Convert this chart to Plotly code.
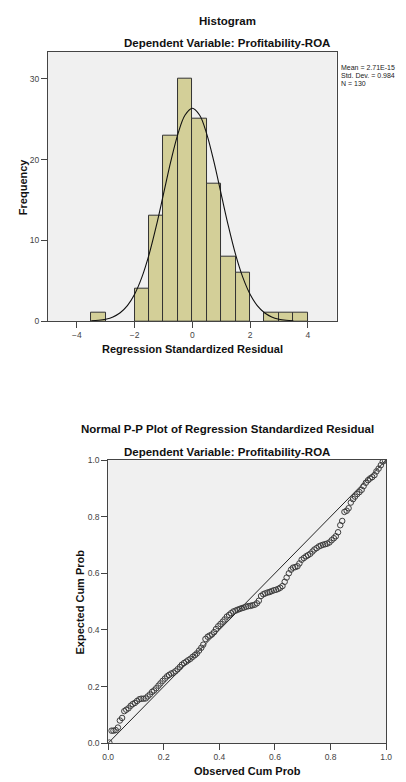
import plotly.graph_objects as go

# ---------------- Data ----------------
bin_centers = [-3.25, -1.75, -1.25, -0.75, -0.25, 0.25, 0.75, 1.25, 1.75, 2.75, 3.25, 3.75]
bin_counts = [1, 4, 13, 23, 30, 25, 17, 8, 6, 1, 1, 1]
bin_width = 0.5

curve_x = [-3.5, -3.25, -3.0, -2.75, -2.5, -2.25, -2.0, -1.75, -1.5, -1.25, -1.0, -0.75, -0.5, -0.25,
           0.0, 0.25, 0.5, 0.75, 1.0, 1.25, 1.5, 1.75, 2.0, 2.25, 2.5, 2.75, 3.0, 3.25, 3.5]
curve_y = [0.05, 0.11, 0.25, 0.53, 1.05, 1.93, 3.34, 5.42, 8.24, 11.76, 15.72, 19.71, 23.16, 25.51,
           26.35, 25.51, 23.16, 19.71, 15.72, 11.76, 8.24, 5.42, 3.34, 1.93, 1.05, 0.53, 0.25, 0.11, 0.05]

stats_lines = ["Mean = 2.71E-15", "Std. Dev. = 0.984", "N = 130"]

hist_xticks = [-4, -2, 0, 2, 4]
hist_yticks = [0, 10, 20, 30]

obs_cum = [0.004, 0.012, 0.019, 0.027, 0.035, 0.042, 0.050, 0.058, 0.065, 0.073,
           0.081, 0.088, 0.096, 0.104, 0.112, 0.119, 0.127, 0.135, 0.142, 0.150,
           0.158, 0.165, 0.173, 0.181, 0.188, 0.196, 0.204, 0.212, 0.219, 0.227,
           0.235, 0.242, 0.250, 0.258, 0.265, 0.273, 0.281, 0.288, 0.296, 0.304,
           0.312, 0.319, 0.327, 0.335, 0.342, 0.350, 0.358, 0.365, 0.373, 0.381,
           0.388, 0.396, 0.404, 0.412, 0.419, 0.427, 0.435, 0.442, 0.450, 0.458,
           0.465, 0.473, 0.481, 0.488, 0.496, 0.504, 0.512, 0.519, 0.527, 0.535,
           0.542, 0.550, 0.558, 0.565, 0.573, 0.581, 0.588, 0.596, 0.604, 0.612,
           0.619, 0.627, 0.635, 0.642, 0.650, 0.658, 0.665, 0.673, 0.681, 0.688,
           0.696, 0.704, 0.712, 0.719, 0.727, 0.735, 0.742, 0.750, 0.758, 0.765,
           0.773, 0.781, 0.788, 0.796, 0.804, 0.812, 0.819, 0.827, 0.835, 0.842,
           0.850, 0.858, 0.865, 0.873, 0.881, 0.888, 0.896, 0.904, 0.912, 0.919,
           0.927, 0.935, 0.942, 0.950, 0.958, 0.965, 0.973, 0.981, 0.988, 0.996]
exp_cum = [0.002, 0.044, 0.044, 0.046, 0.055, 0.080, 0.089, 0.113, 0.118, 0.123,
           0.132, 0.138, 0.142, 0.149, 0.155, 0.157, 0.157, 0.158, 0.165, 0.172,
           0.181, 0.186, 0.194, 0.203, 0.211, 0.220, 0.228, 0.236, 0.241, 0.246,
           0.249, 0.254, 0.261, 0.269, 0.277, 0.283, 0.288, 0.293, 0.298, 0.305,
           0.311, 0.317, 0.327, 0.337, 0.348, 0.368, 0.376, 0.380, 0.384, 0.392,
           0.403, 0.413, 0.421, 0.429, 0.437, 0.447, 0.453, 0.459, 0.465, 0.468,
           0.471, 0.474, 0.477, 0.479, 0.482, 0.484, 0.485, 0.487, 0.489, 0.494,
           0.503, 0.520, 0.526, 0.529, 0.532, 0.534, 0.537, 0.540, 0.542, 0.545,
           0.549, 0.555, 0.570, 0.585, 0.600, 0.613, 0.620, 0.622, 0.625, 0.635,
           0.648, 0.654, 0.660, 0.664, 0.669, 0.677, 0.684, 0.689, 0.695, 0.698,
           0.701, 0.703, 0.705, 0.709, 0.717, 0.724, 0.731, 0.745, 0.770, 0.785,
           0.817, 0.821, 0.830, 0.850, 0.862, 0.871, 0.880, 0.887, 0.895, 0.908,
           0.920, 0.929, 0.935, 0.940, 0.947, 0.960, 0.970, 0.982, 0.995, 0.999]
ref_line = [0.0, 1.0]
pp_ticks = [0.0, 0.2, 0.4, 0.6, 0.8, 1.0]
pp_ticklabels = ["0.0", "0.2", "0.4", "0.6", "0.8", "1.0"]

# ---------------- Geometry ----------------
W, H = 406, 782
def fx(px):
    return px / W
def fy(py):
    return 1 - py / H

FONT = "Liberation Sans, Arial, sans-serif"
BAR_FILL = "#d3cf98"
PLOT_BG = "#f0f0f0"
AX_COL = "#444444"

fig = go.Figure()

fig.add_trace(go.Bar(
    x=bin_centers, y=bin_counts, width=bin_width,
    marker=dict(color=BAR_FILL, line=dict(color="#333333", width=1)),
    xaxis="x", yaxis="y", showlegend=False, hoverinfo="skip"))

fig.add_trace(go.Scatter(
    x=curve_x, y=curve_y, mode="lines", line=dict(color="#111111", width=1.1, shape="spline"),
    xaxis="x", yaxis="y", showlegend=False, hoverinfo="skip"))

fig.add_trace(go.Scatter(
    x=ref_line, y=ref_line, mode="lines", line=dict(color="#222222", width=1),
    xaxis="x2", yaxis="y2", showlegend=False, hoverinfo="skip"))

fig.add_trace(go.Scatter(
    x=obs_cum, y=exp_cum, mode="markers",
    marker=dict(symbol="circle-open", size=5.5, color="#3c3c3c", line=dict(width=1, color="#3c3c3c")),
    xaxis="x2", yaxis="y2", showlegend=False, hoverinfo="skip"))

tickfont = dict(family=FONT, size=8.5, color="#444444")
common = dict(showgrid=False, zeroline=False, showline=True, linecolor=AX_COL, linewidth=1,
              mirror=True, ticks="outside", ticklen=6, tickcolor=AX_COL, tickwidth=1,
              tickfont=tickfont, fixedrange=True)

fig.update_layout(
    width=W, height=H,
    margin=dict(l=0, r=0, t=0, b=0),
    paper_bgcolor="white",
    plot_bgcolor=PLOT_BG,
    bargap=0,
    xaxis=dict(domain=[fx(43.3), fx(340.7)], range=[-5, 5], tickvals=hist_xticks,
               anchor="y", **common),
    yaxis=dict(domain=[fy(320.3), fy(47.3)], range=[0, 33.35], tickvals=hist_yticks,
               anchor="x", **common),
    xaxis2=dict(domain=[fx(105.3), fx(391.7)], range=[0, 1], tickvals=pp_ticks,
                ticktext=pp_ticklabels, anchor="y2", **common),
    yaxis2=dict(domain=[fy(747.7), fy(461)], range=[0, 1], tickvals=pp_ticks,
                ticktext=pp_ticklabels, anchor="x2", **common),
)

def text(x, y, s, size=11.5, bold=True, angle=0, xanchor="center", color="#111111"):
    fig.add_annotation(x=fx(x), y=fy(y), xref="paper", yref="paper", text=("<b>%s</b>" % s) if bold else s,
                       showarrow=False, xanchor=xanchor, yanchor="middle", textangle=angle,
                       borderpad=0, borderwidth=0,
                       font=dict(family=FONT, size=size, color=color))

text(228, 16, "Histogram")
text(228, 38.5, "Dependent Variable: Profitability-ROA")
text(192, 348, "Regression Standardized Residual", size=11)
text(17, 184, "Frequency", size=11, angle=-90)
for i, s in enumerate(stats_lines):
    text(345, 63 + 8.2 * i, s, size=7, bold=False, xanchor="left", color="#222222")

text(228, 429.5, "Normal P-P Plot of Regression Standardized Residual")
text(228, 452.5, "Dependent Variable: Profitability-ROA")
text(249, 775.5, "Observed Cum Prob", size=11)
text(76, 604.5, "Expected Cum Prob", size=11, angle=-90)

fig.write_html("out.html", config={"displayModeBar": False},
               post_script="document.body.style.margin='0';document.body.style.overflow='hidden';")
